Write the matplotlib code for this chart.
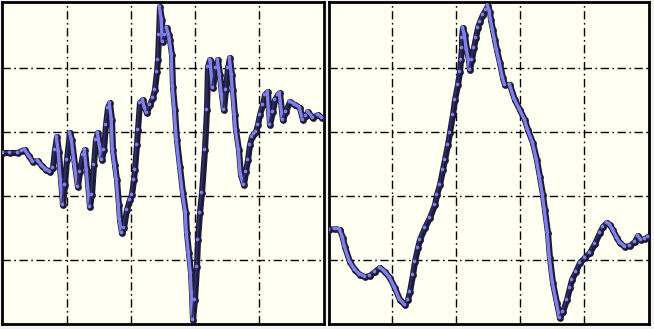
import numpy as np
import matplotlib
matplotlib.use("Agg")
import matplotlib.pyplot as plt
from matplotlib.collections import LineCollection
from matplotlib.transforms import offset_copy

# left trace: x = sample index, y = amplitude
left_x = [0, 7, 15, 19, 22, 26, 30, 35, 39, 43,
          47, 50, 52, 54, 56, 58, 60, 62, 64, 67,
          69, 72, 75, 77, 80, 82, 84, 87, 89, 91,
          93, 95, 97, 99, 101, 103, 105, 107, 109, 110,
          112, 114, 116, 117, 119, 121, 124, 127, 129, 131,
          132, 134, 135, 137, 140, 142, 144, 147, 150, 152,
          154, 155, 156, 157, 159, 160, 162, 164, 166, 167,
          169, 170, 172, 174, 177, 180, 183, 184, 186, 188,
          189, 190, 192, 194, 195, 197, 199, 202, 204, 205,
          207, 208, 210, 213, 215, 217, 219, 221, 223, 225,
          227, 229, 230, 232, 233, 236, 238, 241, 243, 245,
          247, 249, 251, 253, 255, 257, 260, 262, 265, 267,
          270, 272, 275, 277, 280, 283, 287, 292, 297, 300,
          303, 305, 310, 315, 319]
left_y = [11, 11, 11, 13, 14, 8, 2, 3, -2, -6,
          -8, -4, 14, 27, 12, -16, -41, -21, 4, 31,
          24, -1, -23, -8, 9, 14, -6, -43, -31, -1,
          24, 31, 19, 4, 14, 39, 56, 61, 44, 14,
          -1, -16, -41, -56, -69, -64, -46, -36, -31, -16,
          -6, 19, 34, 61, 64, 56, 51, 59, 66, 74,
          92, 104, 129, 157, 144, 122, 129, 136, 129, 124,
          109, 77, 54, 24, -3, -29, -49, -69, -89, -109,
          -129, -156, -136, -103, -76, -49, -29, 14, 54, 97,
          104, 102, 76, 96, 104, 89, 69, 54, 74, 96,
          106, 89, 74, 49, 34, 14, -11, -21, -8, 4,
          19, 27, 30, 32, 39, 49, 59, 69, 72, 39,
          52, 64, 69, 71, 44, 52, 62, 59, 56, 44,
          48, 52, 46, 49, 46]

# right trace
right_x = [1, 7, 12, 15, 17, 22, 27, 32, 37, 42,
           47, 52, 57, 62, 67, 72, 77, 80, 82, 85,
           87, 90, 92, 97, 102, 107, 109, 112, 115, 117,
           120, 122, 125, 127, 130, 132, 133, 134, 134, 135,
           137, 139, 141, 142, 144, 146, 148, 150, 152, 155,
           158, 160, 162, 163, 165, 167, 169, 172, 175, 177,
           182, 187, 192, 197, 200, 205, 209, 212, 215, 217,
           220, 222, 225, 229, 232, 235, 239, 242, 244, 248,
           252, 257, 262, 267, 272, 275, 279, 282, 285, 289,
           292, 297, 302, 307, 310, 313, 317, 320]
right_y = [-66, -65, -66, -74, -83, -98, -106, -111, -113, -112,
           -108, -104, -108, -114, -124, -136, -141, -136, -128, -111,
           -98, -84, -76, -64, -54, -41, -31, -21, -6, 4,
           19, 31, 49, 64, 79, 92, 104, 116, 126, 136,
           129, 114, 104, 94, 104, 116, 126, 136, 142, 149,
           154, 158, 152, 144, 134, 124, 114, 101, 86, 79,
           79, 64, 54, 44, 34, 21, 4, -13, -31, -46,
           -69, -94, -119, -139, -154, -148, -136, -124, -116, -108,
           -99, -94, -89, -80, -69, -63, -59, -61, -66, -74,
           -79, -83, -82, -78, -72, -76, -75, -73]

grid_x = [64, 128, 192, 256]
grid_y = [-96, -32, 32, 96]

BG = "#fffff2"
DARK = "#1b1b38"
LIGHT = "#8080e8"
MID = "#2e2e62"


def style_panel(ax, xlim):
    ax.set_facecolor(BG)
    ax.set_xlim(*xlim)
    ax.set_ylim(-159.5, 162.5)
    ax.set_xticks(grid_x)
    ax.set_yticks(grid_y)
    ax.tick_params(length=0, labelbottom=False, labelleft=False)
    ax.grid(True, color="black", linewidth=1.0, linestyle=(0, (6, 2.5, 1.2, 2.5)))
    for sp in ax.spines.values():
        sp.set_linewidth(2.0)
        sp.set_color("black")


def draw_trace(fig, ax, x, y):
    x = np.asarray(x, float)
    y = np.asarray(y, float)
    # dark body of the tube
    ax.plot(x, y, color=DARK, lw=4.4, solid_capstyle="round",
            solid_joinstyle="round", zorder=3)
    ax.scatter(x, y, s=24, color=DARK, linewidths=0, zorder=3)
    # highlight, bright on falling stretches, dim on rising ones
    hi = offset_copy(ax.transData, fig=fig, x=-0.6, y=0.8, units="points")
    segs = np.stack([np.column_stack([x[:-1], y[:-1]]),
                     np.column_stack([x[1:], y[1:]])], axis=1)
    falling = [b < a for a, b in zip(y[:-1], y[1:])]
    cols = [LIGHT if f else MID for f in falling]
    widths = [2.4 if f else 1.4 for f in falling]
    lc = LineCollection(segs, colors=cols, linewidths=widths, transform=hi,
                        capstyle="round", joinstyle="round", zorder=4)
    ax.add_collection(lc)
    ax.scatter(x, y, s=7, color=LIGHT, linewidths=0, transform=hi, zorder=5)


def main() -> None:
    assert len(left_x) == len(left_y) and len(right_x) == len(right_y)

    fig = plt.figure(figsize=(6.54, 3.29), dpi=100, facecolor="#f2f2f2")
    ax_l = fig.add_axes([2 / 654, 5.5 / 329, 322 / 654, 322 / 329])
    ax_r = fig.add_axes([328.5 / 654, 5.5 / 329, 320.5 / 654, 322 / 329])

    style_panel(ax_l, (-1, 321))
    draw_trace(fig, ax_l, left_x, left_y)
    style_panel(ax_r, (0.5, 321))
    draw_trace(fig, ax_r, right_x, right_y)

    fig.savefig("out.png", dpi=100, facecolor=fig.get_facecolor())


if __name__ == "__main__":
    main()
